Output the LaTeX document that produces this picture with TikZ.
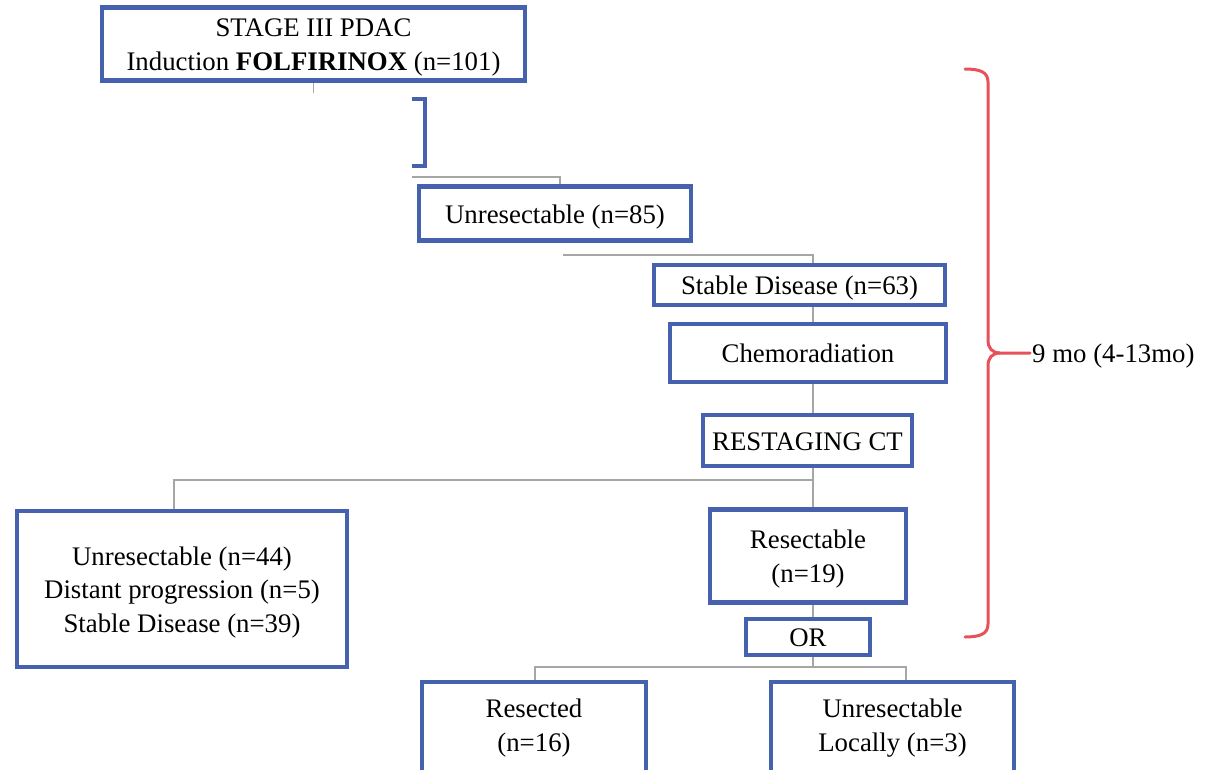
\documentclass[tikz,border=0pt]{standalone}
\usepackage{fontspec}
\setmainfont{Liberation Serif}
\definecolor{boxblue}{RGB}{70,98,175}
\definecolor{bracered}{RGB}{232,80,90}
\definecolor{linegrey}{RGB}{166,166,166}
\newcommand{\lstrut}{\rule[-7.25pt]{0pt}{33.5pt}}
\newcommand{\lstrutb}{\rule[-11.25pt]{0pt}{33.5pt}}
\begin{document}
\begin{tikzpicture}[x=1pt,y=-1pt,
  txt/.style={font=\fontsize{26.8}{33.5}\selectfont},
  box/.style={txt, draw=boxblue, line width=4.5pt, align=center, inner sep=0pt, fill=white},
  conn/.style={draw=linegrey, line width=1.2pt},
  bluepath/.style={draw=boxblue, line width=4.5pt},
  bracepath/.style={draw=bracered, line width=3pt, line cap=round, line join=round}]
\useasboundingbox (0,0) rectangle (1212,769);
\clip (0,0) rectangle (1212,769);
\fill[white] (0,0) rectangle (1212,769);
\coordinate (spine) at (813,0);
\coordinate (stub) at (313.5,93);
\coordinate (c1) at (412,177);
\coordinate (c2) at (563,255);
\coordinate (j1) at (813,480);
\coordinate (j2) at (813,667);
% nodes
\node[box, minimum width=423pt, minimum height=73pt] (top) at (313.5,44) {\lstrut STAGE III PDAC\\\lstrut Induction \textbf{FOLFIRINOX} (n=101)};
\draw[bluepath] (412,99) -- (425,99) -- (425,166) -- (412,166);
\node[box, minimum width=272pt, minimum height=54pt] (u85) at (555,213.5) {\lstrut Unresectable (n=85)};
\node[box, minimum width=291pt, minimum height=40pt] (stable) at (799.5,285) {\lstrut Stable Disease (n=63)};
\node[box, minimum width=276pt, minimum height=58pt] (chemo) at (808,353) {\lstrut Chemoradiation};
\node[box, minimum width=209pt, minimum height=51pt] (restage) at (807.5,440.5) {\lstrut RESTAGING CT};
\node[box, minimum width=330pt, minimum height=156pt] (left) at (182,589) {\lstrut Unresectable (n=44)\\\lstrut Distant progression (n=5)\\\lstrut Stable Disease (n=39)};
\node[box, minimum width=196pt, minimum height=93pt] (res) at (808,556) {\lstrut Resectable\\\lstrut (n=19)};
\node[box, minimum width=124pt, minimum height=36pt] (or) at (808,637) {\lstrut OR};
\node[box, minimum width=224pt, minimum height=94pt] (resected) at (534,729) {\lstrutb Resected\\\lstrutb (n=16)};
\node[box, minimum width=243pt, minimum height=94pt] (unrloc) at (892.5,729) {\lstrutb Unresectable\\\lstrutb Locally (n=3)};
% connectors
\draw[conn] (top) -- (stub);
\draw[conn] (c1) -| ([xshift=5pt]u85.north);
\draw[conn] (c2) -| (stable.north -| spine);
\draw[conn] (stable.south -| spine) -- (chemo.north -| spine);
\draw[conn] (chemo.south -| spine) -- (restage.north -| spine);
\draw[conn] (restage.south -| spine) -- (res.north -| spine);
\draw[conn] (j1) -| ([xshift=-8pt]left.north);
\draw[conn] (res.south -| spine) -- (or.north -| spine);
\draw[conn] (or.south -| spine) -- (j2);
\draw[conn] (j2) -| ([xshift=1pt]resected.north);
\draw[conn] (j2) -| ([xshift=13.5pt]unrloc.north);
% brace
\node[txt, anchor=west, inner sep=2pt] (dur) at (1030,353) {\lstrut 9 mo (4-13mo)};
\draw[bracepath] (965,69) .. controls (980,69) and (988,72) .. (988,82) -- (988,340) .. controls (988,348) and (992,353) .. (1000,353) -- (dur.west);
\draw[bracepath] (1000,353) .. controls (992,353) and (988,358) .. (988,366) -- (988,624) .. controls (988,634) and (980,637) .. (965,637);
\end{tikzpicture}
\end{document}
